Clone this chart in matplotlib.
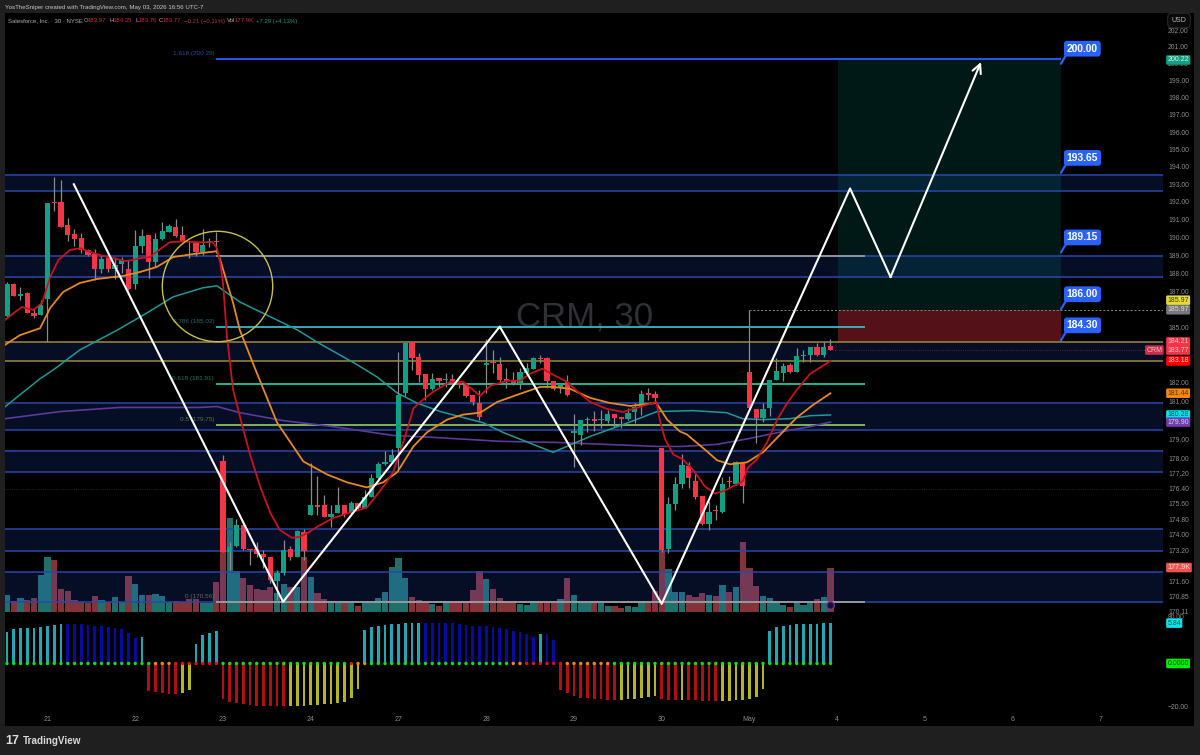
import numpy as np
import matplotlib
matplotlib.use('Agg')
import matplotlib.pyplot as plt
from matplotlib.patches import Rectangle
from matplotlib.ticker import NullFormatter

plt.rcParams['font.family'] = ['Liberation Sans', 'DejaVu Sans']

# --- Data: 30 min bars, index 0 is the first bar of the 21st
opens = [185.63,187.40,186.73,186.90,185.79,185.68,
 186.57,191.98,191.99,190.71,190.16,189.94,189.28,189.06,188.23,188.83,188.23,188.50,188.23,
 187.40,189.50,190.11,188.61,189.88,190.27,190.55,190.11,189.77,189.72,189.17,189.66,189.77,
 177.82,173.14,173.44,174.51,173.29,173.29,173.04,172.88,171.66,172.07,173.29,172.88,174.16,
 175.04,175.52,175.57,174.94,175.15,175.52,175.15,175.67,175.41,175.94,176.93,177.67,177.77,
 178.51,181.46,184.21,183.40,182.49,181.68,182.27,182.16,182.22,182.00,181.89,181.35,180.92,
 182.97,183.13,183.03,182.22,182.11,181.95,182.54,182.76,183.35,183.35,182.11,181.73,182.05,
 179.30,179.24,180.03,180.08,180.03,179.98,180.35,180.19,180.08,180.46,180.76,181.46,181.41,
 178.51,173.29,175.62,176.62,177.56,176.77,175.99,174.57,175.31,175.20,176.77,176.62,177.72,
 182.59,180.60,180.14,180.65,182.16,182.54,182.97,182.59,183.46,183.51,183.94,183.51,183.97]
highs = [187.51,187.47,187.23,186.95,186.07,186.51,
 191.93,193.42,193.26,191.10,190.44,190.22,189.33,189.33,189.00,189.00,188.89,188.89,188.72,
 190.38,190.44,190.11,190.22,190.88,190.77,191.05,190.66,189.77,189.72,190.49,189.94,190.27,
 178.14,173.65,174.83,174.67,173.29,173.65,173.24,172.88,172.22,173.75,173.44,174.26,174.31,
 177.72,177.04,176.04,175.52,176.46,175.52,175.73,175.67,176.35,177.14,177.77,178.35,178.46,
 183.67,184.16,184.21,183.62,182.49,182.54,182.27,182.54,182.49,182.05,182.00,181.35,181.62,
 184.38,183.78,183.40,182.81,182.59,182.81,183.08,183.40,183.51,183.40,182.11,182.00,182.43,
 180.35,180.03,180.19,180.49,180.54,180.54,180.35,180.19,180.65,180.92,181.62,181.73,181.57,
 178.51,175.94,176.99,178.19,177.77,177.14,175.99,175.73,175.52,176.99,177.04,177.82,177.77,
 185.96,180.60,180.92,182.16,183.35,183.08,183.08,183.89,183.78,183.94,184.16,184.21,184.35]
lows = [185.60,186.73,186.51,185.79,185.52,185.68,
 184.20,191.49,190.60,189.77,189.50,189.11,188.94,187.62,188.00,188.06,187.67,188.00,187.06,
 187.12,189.11,187.73,188.34,189.83,190.27,189.99,189.72,188.83,188.94,189.00,189.44,189.11,
 173.14,172.22,173.39,173.24,172.47,172.88,172.32,171.56,170.69,171.97,172.73,172.88,172.73,
 175.04,175.04,174.94,174.41,175.15,174.94,175.10,175.31,175.41,175.94,176.88,177.61,177.72,
 177.40,181.30,182.70,182.05,181.08,181.62,181.78,181.78,181.95,181.73,181.24,180.81,180.03,
 181.46,182.54,182.00,181.73,181.89,181.68,182.43,182.76,183.08,181.78,181.62,181.46,181.30,
 177.51,178.66,179.35,179.40,179.56,179.87,179.66,179.61,180.03,179.87,180.27,181.08,180.92,
 173.14,173.09,175.31,176.41,176.41,175.88,174.51,174.26,174.77,175.15,176.46,176.56,175.67,
 180.65,178.77,179.93,180.22,182.16,182.11,182.54,182.59,183.13,183.13,183.46,183.40,183.76]
closes = [187.37,186.73,186.84,185.79,185.63,186.23,
 191.93,191.93,190.60,190.11,189.88,189.28,189.00,188.23,188.78,188.23,188.45,188.72,187.12,
 189.50,190.05,188.61,189.88,190.33,190.66,190.05,189.77,189.72,189.17,189.55,189.77,189.72,
 173.14,173.39,174.51,173.29,173.24,173.04,172.88,171.71,172.07,173.24,172.88,174.21,173.19,
 175.52,175.46,174.94,175.10,175.57,175.10,175.67,175.41,175.94,176.93,177.67,177.77,178.14,
 181.35,184.16,183.35,182.43,181.68,182.22,182.11,182.22,182.00,181.89,181.30,180.97,180.16,
 183.08,183.08,182.16,182.11,182.00,182.59,182.81,183.35,183.30,182.11,181.68,181.95,181.35,
 179.40,180.03,180.08,179.98,180.08,180.35,180.14,180.08,180.40,180.73,181.41,181.35,181.19,
 173.24,175.62,176.62,177.61,176.93,175.94,174.57,175.20,175.25,176.62,176.72,177.77,176.51,
 180.65,180.14,180.60,182.16,182.65,182.92,182.59,183.46,183.51,183.94,183.51,183.94,183.77]
volumes_k = [68,44,56,48,56,148,
 220,208,92,84,48,40,36,64,48,40,60,40,144,
 112,68,68,72,64,40,44,40,52,52,36,36,120,
 240,376,164,136,108,92,88,100,76,112,100,100,220,
 140,76,52,36,36,44,36,24,36,36,56,80,180,
 216,136,60,48,36,32,24,36,40,40,44,88,164,
 132,92,56,44,36,32,28,36,40,36,36,52,136,
 68,36,36,36,36,24,24,16,24,20,44,40,84,
 248,172,80,80,68,60,76,68,64,108,80,100,280,
 176,104,64,56,40,28,20,36,28,36,52,60,177.9]
momentum = [4.53,4.96,5.11,5.11,5.11,5.26,
 5.40,5.55,5.69,5.69,5.69,5.69,5.55,5.40,5.40,5.26,5.11,4.96,4.38,
 3.65,3.80,-3.94,-4.09,-4.23,-4.38,-4.38,-4.23,-3.80,2.77,4.09,4.38,4.67,
 -5.11,-5.55,-5.69,-5.84,-5.99,-6.13,-6.13,-6.13,-6.13,-6.13,-6.13,-6.13,-6.13,
 -5.99,-5.99,-5.84,-5.84,-5.69,-5.55,-4.96,-3.65,4.82,5.26,5.40,5.55,5.69,
 5.69,5.84,5.84,5.84,5.84,5.84,5.84,5.84,5.84,5.69,5.55,5.40,5.40,
 5.40,5.26,5.11,4.96,4.67,4.53,4.23,3.80,4.23,4.23,3.36,-3.80,-4.23,
 -4.67,-4.96,-4.96,-5.11,-5.11,-5.26,-5.26,-5.26,-5.11,-5.11,-4.96,-4.82,-4.67,
 -5.11,-5.26,-5.26,-5.26,-5.26,-5.26,-5.40,-5.40,-5.40,-5.40,-5.40,-5.26,-5.26,
 -5.11,-4.82,-3.65,4.67,5.26,5.40,5.55,5.69,5.69,5.69,5.69,5.84,5.84]
# c rising above zero, b falling above zero, r falling below zero, y rising below zero
momentum_state = ('ccccccccc' 'bbbbbbbbbbb' 'c' 'rrrrr' 'yy' 'cccc'
                  'rrrrrrrrrr' 'yyyyyyyyyyy' 'ccccccccc'
                  'bbbbbbbbbbbbbbbbb' 'c' 'bb' 'rrrrrrrrr' 'yyyyyy'
                  'rrr' 'y' 'rrrrr' 'yyyyyyy' 'cccccccccc')
# g strong, o weakening, r squeeze
squeeze_state = ('gggggggggggggggggggggg' 'ooo' 'rrrrrrr' 'ggggggggggggggggggg' 'r' 'oo'
                 'ggggggggggggggggggggg' 'oo' 'rrrrrr' 'ooooooo'
                 'ggggggggggggggggggggggggggggggggg')

ema_fast_i = [-6.3,-4.8,-3.8,-2.1,-0.8,0.4,1.6,3.3,4.8,6,7.8,9.7,11.5,12.5,13.7,15.2,16.5,18.1,20.1,22.1,24.5,25.1,25.6,26,26.6,27.5,29,30,31.5,33,34.4,36.2,37.4,38.6,39.9,42.3,44.8,47.3,48.5,50,51.2,52.2,53.3,54.2,55.2,57.1,59.6,61.6,64.1,65.6,68.1,70,71.5,73.3,75.5,77,78.4,80.4,82.9,85.3,88.2,90.2,90.7,91.5,92.7,94.1,95.6,97.4,98.9,100.4,101.5,103,103.8,105.1,106.6,108.1,109.6,111,113,114.4,116]
ema_fast_p = [185.41,185.85,186.12,185.96,186.35,187.78,188.72,189.28,189.39,189.22,189.00,188.83,188.67,188.72,188.83,188.89,189.28,189.72,189.77,189.72,189.72,189.39,188.56,187.45,184.47,181.62,179.51,178.19,176.51,175.15,174.26,173.85,173.90,174.11,174.41,174.87,175.15,175.41,175.94,176.62,177.25,178.30,179.51,180.62,180.97,181.51,182.05,182.05,181.30,181.84,182.11,182.11,182.49,182.76,182.32,182.05,181.57,180.97,180.60,180.44,180.76,180.97,180.03,178.98,178.19,177.93,177.40,176.51,176.14,176.30,176.51,176.77,177.51,177.93,178.82,180.03,180.92,181.62,182.49,182.81,183.18]
ema_slow_i = [-6.3,-4.1,-1.1,0.4,2.3,4.8,7.3,11.2,13.7,16.2,18.6,21.6,25.1,25.6,27.5,28.5,31,34,37.9,41.4,44.4,47.3,49.7,51.8,54.2,56.2,59.2,61.6,64.1,66.6,70.4,73,74.9,77.4,80.4,83.3,86.3,90.2,91.8,93.7,94.7,97.7,99.2,101.1,103.6,106,109,111,113.4,116]
ema_slow_p = [184.05,184.58,184.96,186.07,186.95,187.45,187.67,187.84,188.06,188.34,188.89,189.06,189.22,188.72,186.35,184.85,182.54,179.88,177.82,177.14,176.72,176.46,176.72,177.25,178.61,179.35,180.03,180.30,180.40,180.97,181.46,181.78,181.78,181.68,181.19,180.92,180.76,180.92,180.03,179.40,179.25,178.35,177.88,177.67,177.77,178.30,179.40,180.14,180.81,181.44]
sma_teal_i = [-6.3,-4.1,-1.1,1.1,4.8,10.3,14.7,18.6,23,25.1,28.5,32.5,37.1,39.9,45.9,48.8,51.8,54.7,58.2,61.6,64.5,67.5,74.9,80.4,85.3,90.3,95.6,100.6,103,106,110,113,116]
sma_teal_p = [180.71,181.35,182.22,182.76,183.78,184.85,185.79,186.68,187.18,187.29,186.40,185.68,184.85,184.21,182.97,182.32,181.46,180.92,180.46,180.14,179.87,179.35,178.30,179.14,179.77,180.46,180.51,180.40,180.08,180.03,180.08,180.24,180.28]
sma_purple_i = [-6.3,1.9,10.7,22.6,25.1,28.5,34.9,42.3,51.2,57.1,67,75.5,90.3,94.1,99.2,104,109,113,116]
sma_purple_p = [180.08,180.46,180.68,180.68,180.73,180.40,179.98,179.66,179.19,179.09,178.88,178.82,178.61,178.61,178.72,179.03,179.40,179.66,179.90]

zones = [(193.53,192.62),(188.97,187.80),(180.92,179.50),(178.35,177.25),(174.30,173.19),(172.10,170.56)]
zone_gold = (184.21,183.20)
fib_levels = [200.29,185.02,181.91,179.75,170.56]
fib_names = ['1.618 (200.29)','0.786 (185.02)','0.618 (181.91)','0.5 (179.75)','0 (170.56)']
path_i = [3.9,34.9,67,91,118.9,124.9,138.3]
path_p = [193.0,170.59,185.05,170.49,192.76,187.78,200.1]
target_vals = [200.00,193.65,189.15,186.00,184.30]
price_ticks = [202,201,200,199,198,197,196,195,194,193,192,191,190,189,188,187,185,182,181,179,178,177.2,176.4,175.6,174.8,174,173.2,171.6,170.85,170.11]
day_ticks = [0,13,26,39,52,65,78,91,104,117,130,143,156]
day_names = ['21','22','23','24','27','28','29','30','May','4','5','6','7']

# --- Derived
x = np.arange(-6,117)
opens,highs,lows,closes = map(np.array,(opens,highs,lows,closes))
up = closes>=opens
xmin,xmax = -6.296,165.26
W,H = 1200.,755.

def axpos(l,t,r,b):
    return [l/W,1-b/H,(r-l)/W,(b-t)/H]

fig = plt.figure(figsize=(12,7.55),dpi=100,facecolor='#1f1f1f')
# black pane behind all, includes the price scale
bg = fig.add_axes(axpos(5,13,1194,726),facecolor='black')
bg.set_xticks([]); bg.set_yticks([])
for s in bg.spines.values(): s.set_visible(False)

ax_vol = fig.add_axes(axpos(5,13,1163,612),facecolor='none',zorder=1)
ax = fig.add_axes(axpos(5,13,1163,612),facecolor='none',zorder=2)
ax_ind = fig.add_axes(axpos(5,612,1163,726),facecolor='none',zorder=2)

# --- Volume
ax_vol.bar(x,volumes_k,width=0.94,color=np.where(up,'#1f6f6c','#843338'))
ax_vol.set_xlim(xmin,xmax)
ax_vol.set_ylim(0,2396)
ax_vol.axis('off')

# --- Price pane
ax.set_yscale('log')
ax.set_xlim(xmin,xmax)
ax.set_ylim(170.08,203.02)

ax.axhline(176.4,color='#333333',lw=0.6,ls=':')
# zones
for hi,lo in zones:
    ax.axhspan(lo,hi,facecolor='#2962ff',alpha=0.15,lw=0,zorder=1)
    ax.axhline(hi,color='#2848a8',lw=1.1,zorder=1.5)
    ax.axhline(lo,color='#2848a8',lw=1.1,zorder=1.5)
ax.axhspan(zone_gold[1],zone_gold[0],facecolor='#2962ff',alpha=0.15,lw=0,zorder=1)
ax.axhline(zone_gold[0],color='#9c8c3a',lw=1.1,zorder=1.5)
ax.axhline(zone_gold[1],color='#9c8c3a',lw=1.1,zorder=1.5)

# long position box
ax.add_patch(Rectangle((117.07,185.97),33.08,200.22-185.97,facecolor='#009688',alpha=0.17,lw=0,zorder=1.2))
ax.add_patch(Rectangle((117.07,184.21),33.08,185.97-184.21,facecolor='#f23645',alpha=0.35,lw=0,zorder=1.2))

# fib levels
fib_colors = ['#2962ff','#36b8c8','#26c6a0','#86c060','#a0a0a0']
fib_text = ['#2a4aa0','#1c6a78','#1c7a66','#4e7a3a','#666666']
for lev,name,c,tc in zip(fib_levels,fib_names,fib_colors,fib_text):
    xe = 150.15 if lev>200 else 121.1
    ax.hlines(lev,25,xe,color=c,lw=1.3,zorder=1.8)
    ax.annotate(name,(24.7,lev),xytext=(0,4),textcoords='offset points',ha='right',va='center',fontsize=4.6,color=tc,zorder=1.8)
ax.hlines(188.97,25,121.1,color='#9a9aa0',lw=1.3,zorder=1.8)
ax.text(79.5,185.55,'CRM, 30',color='#2e3236',fontsize=25,ha='center',va='center',zorder=1.1)

# candles
ax.vlines(x,lows,highs,color='#8a8a8a',lw=0.9,zorder=3)
body_lo = np.minimum(opens,closes)
body_h = np.maximum(np.abs(closes-opens),0.03)
ax.bar(x,body_h,bottom=body_lo,width=0.76,color=np.where(up,'#12a085','#f23645'),zorder=3.1)

# moving averages
ax.plot(sma_purple_i,sma_purple_p,color='#5a3a9a',lw=1.2,zorder=2.5)
ax.plot(sma_teal_i,sma_teal_p,color='#1e9a98',lw=1.1,zorder=2.5)
ax.plot(ema_slow_i,ema_slow_p,color='#e58a1f',lw=1.3,zorder=3.3)
ax.plot(ema_fast_i,ema_fast_p,color='#c8141c',lw=1.3,zorder=3.3)

# dotted price lines
ax.hlines(185.97,104,xmax,color='#8c8c6a',lw=0.7,ls=(0,(2,2)),zorder=2)
ax.hlines(183.77,116,xmax,color='#7a2a40',lw=0.6,ls=':',zorder=2)

# circle, drawn as one marker so it stays round on the log axis
ax.plot([25.1],[187.31],marker='o',ms=79.5,mfc='none',mec='#c8c04a',mew=1.0,zorder=4)
ax.plot([116],[170.42],marker='o',ms=5.5,mfc='#1a1030',mec='#6a3aa0',mew=1.0,zorder=4)

# projected path
ax.plot(path_i[:-1],path_p[:-1],color='white',lw=1.5,zorder=5)
ax.annotate('',xy=(path_i[-1],path_p[-1]),xytext=(path_i[-2],path_p[-2]),zorder=5,
    arrowprops=dict(arrowstyle='->',color='white',lw=1.5,mutation_scale=16,shrinkA=0,shrinkB=0))

# target callouts
for val in target_vals:
    ax.annotate('%.2f'%val,(150.15,val),xytext=(4.2,7.2),textcoords='offset points',ha='left',va='bottom',
        fontsize=7.4,fontweight='bold',color='white',zorder=6,
        bbox=dict(boxstyle='round,pad=0.28',fc='#2962ff',ec='none'),
        arrowprops=dict(arrowstyle='-',color='#2962ff',lw=1.6,shrinkA=0,shrinkB=0,relpos=(0,0)))

# price scale
ax.yaxis.tick_right()
ax.set_yticks(price_ticks)
ax.set_yticklabels(['%.2f'%p for p in price_ticks])
ax.yaxis.set_minor_formatter(NullFormatter())
ax.tick_params(axis='y',which='both',length=0,pad=3.6,labelsize=4.9,labelcolor='#8c8c8c')
ax.set_xticks([])
for s in ax.spines.values(): s.set_visible(False)

# --- Momentum pane
ax_ind.set_xlim(xmin,xmax)
ax_ind.set_ylim(-9.05,7.45)
mom_cols = {'c':'#1fa8b4','b':'#0a0aa0','r':'#b01014','y':'#b4b420'}
dot_cols = {'g':'#11e011','o':'#f08a10','r':'#e01010'}
ax_ind.bar(x,momentum,width=0.38,color=[mom_cols[s] for s in momentum_state])
ax_ind.scatter(x,np.zeros(len(x)),s=6,color=[dot_cols[s] for s in squeeze_state],lw=0,zorder=3)
ax_ind.set_xticks(day_ticks)
ax_ind.set_xticklabels(day_names)
ax_ind.set_yticks([])
ax_ind.tick_params(axis='x',length=0,pad=-7.5,labelsize=5,labelcolor='#8c8c8c')
for s in ax_ind.spines.values(): s.set_visible(False)

# --- Value badges on the scale
def badge(axx,val,txt,fc,tc='white'):
    tr = axx.get_yaxis_transform()
    axx.text(1.0038,val,txt,transform=tr,fontsize=5,color=tc,ha='left',va='center',zorder=9,clip_on=False,
        bbox=dict(boxstyle='round,pad=0.18',fc=fc,ec='none'))

badge(ax,200.22,'200.22','#12a085','#d8f0e8')
badge(ax,186.5,'185.97','#e8d83a','#333333')
badge(ax,185.97,'185.97','#77777c','#dddddd')
badge(ax,184.21,'184.21','#f23645','#f0c0c8')
badge(ax,183.77,'183.77','#f23645','#f0c0c8')
badge(ax,183.18,'183.18','#ff0000','#ffd0d0')
badge(ax,181.44,'181.44','#f5880f','#5a3000')
badge(ax,180.28,'180.28','#00e5f0','#0a4a50')
badge(ax,179.90,'179.90','#6f3fb0','#e0d0f0')
ax.text(0.9995,183.77,'CRM',transform=ax.get_yaxis_transform(),fontsize=5,color='#f0c0c8',ha='right',va='center',zorder=9,
    bbox=dict(boxstyle='round,pad=0.18',fc='#c83048',ec='none'))
ax_vol.text(1.0038,177.9,'177.9K',transform=ax_vol.get_yaxis_transform(),fontsize=5.2,color='#fbe0e0',ha='left',va='center',
    clip_on=False,bbox=dict(boxstyle='round,pad=0.18',fc='#ef5350',ec='none'))
badge(ax_ind,5.84,'5.84','#00e5f0','#0a4a50')
badge(ax_ind,0,'0.0000','#00f000','#064006')
tr = ax_ind.get_yaxis_transform()
ax_ind.text(1.0038,6.6,'80.00',transform=tr,fontsize=4.9,color='#8c8c8c',va='center',clip_on=False)
ax_ind.text(1.0038,-6.42,'\u221220.00',transform=tr,fontsize=4.9,color='#8c8c8c',va='center',clip_on=False)

# --- Header, USD box, logo
def ftext(px,py,s,**kw):
    return fig.text(px/W,1-py/H,s,va='center',**kw)

ftext(5,8,'YosTheSniper created with TradingView.com, May 03, 2026 16:56 UTC-7',fontsize=4.4,color='#c8c8c8')
ftext(8,21,'Salesforce, Inc. \u00b7 30 \u00b7 NYSE',fontsize=4.3,color='#b0b0b0')
red = '#c8303c'; grey = '#b0b0b0'
for px,lab,val in [(84,'O','183.97'),(110,'H','184.35'),(135,'L','183.76'),(159,'C','183.77')]:
    ftext(px,21,lab,fontsize=4.3,color=grey)
    ftext(px+4,21,val,fontsize=4.3,color=red)
ftext(184,21,'\u22120.21 (\u22120.11%)',fontsize=4.3,color=red)
ftext(227,21,'Vol',fontsize=4.3,color=grey)
ftext(235,21,'177.9K',fontsize=4.3,color=red)
ftext(256,21,'+7.29 (+4.13%)',fontsize=4.3,color='#1a9a80')
fig.text(1179/W,1-20.5/H,'USD',fontsize=5,color='#b8b8b8',ha='center',va='center',zorder=10,
    bbox=dict(boxstyle='round,pad=0.55',fc='#0a0a0a',ec='#333333',lw=0.6))
ftext(5,741,'17',fontsize=9,fontweight='bold',color='#dcdcdc')
ftext(23,741,'TradingView',fontsize=7.1,fontweight='bold',color='#d8d8d8')

fig.savefig('out.png',dpi=100,facecolor=fig.get_facecolor())
